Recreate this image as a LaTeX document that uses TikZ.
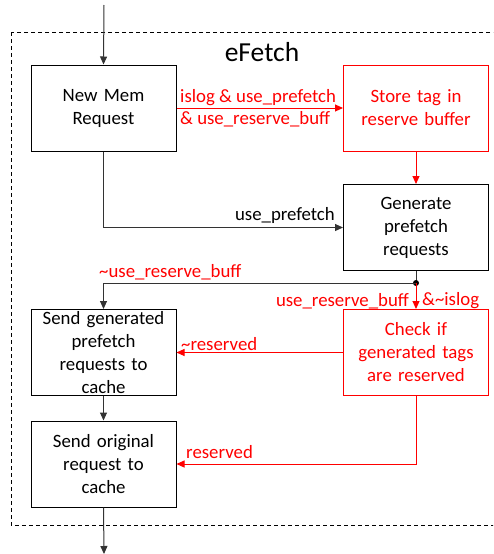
\documentclass[tikz,border=0pt]{standalone}
\usepackage{fontspec}
\setmainfont{Carlito}
\usetikzlibrary{arrows.meta}
\definecolor{lnc}{HTML}{333333}
\tikzset{
  box/.style={draw=black, line width=1pt, minimum width=145pt, minimum height=86pt, align=center, text width=140pt, inner sep=0pt, font=\fontsize{18.8}{23}\selectfont},
  rbox/.style={box, draw=red, text=red},
  conn/.style={draw=lnc, line width=1pt, -{Triangle[length=8pt,width=7pt]}},
  rconn/.style={conn, draw=red, -{Triangle[length=8pt,width=7pt,fill=red]}},
  lbl/.style={font=\fontsize{18.8}{22}\selectfont, inner sep=0pt, align=left},
  rlbl/.style={lbl, text=red}
}
\begin{document}
\begin{tikzpicture}[x=1pt,y=-1pt]
\useasboundingbox (0,0) rectangle (493,554);
\clip (0,0) rectangle (493,554);
\draw[dashed, line width=0.9pt, dash pattern=on 4pt off 3pt] (11,32) rectangle (510,525);
\node[font=\fontsize{27.5}{30}\selectfont] (title) at (262,52) {eFetch};

\node[box] (nmr) at (103.5,108) {New Mem\\Request};
\node[rbox] (store) at (416,108) {Store tag in\\reserve buffer};
\node[box] (gen) at (416,227.5) {Generate\\prefetch\\requests};
\node[box] (sgen) at (103.5,352.5) {Send generated\\prefetch\\requests to\\cache};
\node[rbox] (chk) at (416,352.5) {Check if\\generated tags\\are reserved};
\node[box] (sorig) at (103.5,464) {Send original\\request to\\cache};

\coordinate (top) at (104,5);
\coordinate (bot) at (104,554);
\coordinate (dot) at (416,283);

\draw[conn] (top) -- (nmr.north);
\draw[rconn] (nmr.east) -- (store.west);
\node[rlbl, anchor=west] (l1) at (180,108) {islog \& use\_prefetch\\\& use\_reserve\_buff};
\draw[rconn] (store.south) -- (gen.north);
\draw[conn] (nmr.south) |- (gen.west);
\node[lbl, anchor=east] (l2) at (335,215) {use\_prefetch};
\draw[draw=lnc, line width=1pt] (gen.south) -- (dot);
\fill[black] (dot) circle (3pt);
\draw[conn] (dot) -| (sgen.north);
\node[rlbl, anchor=west] (l3) at (99,272) {\textasciitilde use\_reserve\_buff};
\draw[rconn] (dot) -- (chk.north);
\node[rlbl, anchor=east] (l4) at (409,301) {use\_reserve\_buff};
\node[rlbl, anchor=west] (l5) at (422,301) {\&\textasciitilde islog};
\draw[rconn] (chk.west) -- (sgen.east);
\node[rlbl, anchor=west] (l6) at (181,344) {\textasciitilde reserved};
\draw[conn] (sgen.south) -- (sorig.north);
\draw[rconn] (chk.south) |- (sorig.east);
\node[rlbl, anchor=west] (l7) at (186,452) {reserved};
\draw[conn] (sorig.south) -- (bot);
\end{tikzpicture}
\end{document}
